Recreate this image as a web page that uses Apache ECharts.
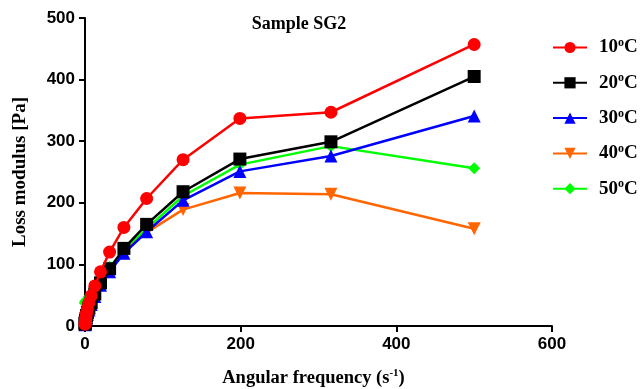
<!DOCTYPE html>
<html><head><meta charset="utf-8">
<script src="https://cdn.jsdelivr.net/npm/echarts@6/dist/echarts.min.js"></script>
<style>html,body{margin:0;padding:0;background:#fff}#c{width:643px;height:389px}</style>
</head><body><div id="c"></div>
<script>
var freq = [500, 316, 199, 126, 79.2, 50, 31.6, 19.9, 12.6, 7.92, 5, 3.16, 1.99, 1.26, 0.79, 0.5, 0.316, 0.2, 0.126];
var g10 = [457, 347, 337, 270, 207, 160, 120, 88, 65, 49, 38, 28, 21, 15, 11, 8, 6, 4, 3];
var g20 = [405, 299, 271, 218, 165, 126, 93, 70, 52, 38, 29, 22, 17, 12, 9, 7, 5, 4, 3];
var g30 = [341, 276, 251, 204, 153, 118, 88, 66, 48, 35, 26, 19, 14, 10, 8, 6, 4, 3, 2];
var g40 = [158, 214, 216, 189, 152, 120, 90, 68, 50, 37, 28, 21, 16, 12, 9, 7, 5, 4, 3];
var g50 = [256, 292, 262, 211, 158, 122, 96, 75, 60, 52, 47, 44, 42, 41, 40, 39, 38, 38, 37];
var names = ['10', '20', '30', '40', '50'];
var xTicks = [0, 200, 400, 600];
var yTicks = [0, 100, 200, 300, 400, 500];

function pts(arr){ return freq.map(function(f,i){ return [f, arr[i]]; }); }
var defs = [
  {n:'10', d:g10, c:'#ff0000', s:'circle', sz:13},
  {n:'20', d:g20, c:'#000000', s:'rect', sz:13},
  {n:'30', d:g30, c:'#0000ff', s:'triangle', sz:13},
  {n:'40', d:g40, c:'#ff6600', s:'path://M0,0 L10,0 L5,10 Z', sz:13},
  {n:'50', d:g50, c:'#00ff00', s:'diamond', sz:12}
];
var series = defs.map(function(o, i){
  return {
    name: o.n, type:'line', data: pts(o.d), symbol:o.s, symbolSize:o.sz,
    showAllSymbol:true, z: 10 - i,
    lineStyle:{color:o.c, width:2.5}, itemStyle:{color:o.c}
  };
}).reverse();

var chart = echarts.init(document.getElementById('c'));
chart.setOption({
  animation:false,
  title:{text:'Sample SG2', left:294, top:10, textAlign:'center',
    textStyle:{fontFamily:'Liberation Serif', fontWeight:'bold', fontSize:18, color:'#000'}},
  grid:{left:85, right:91, top:18, bottom:63, containLabel:false, outerBoundsMode:'none'},
  legend:{
    data: names, orient:'vertical', left:547, top:32, itemGap:15.3,
    itemWidth:34, itemHeight:14,
    formatter:function(n){ return n + '{s|o}C'; },
    textStyle:{fontFamily:'Liberation Serif', fontWeight:'bold', fontSize:19, color:'#000', padding:[0,0,0,7],
      rich:{s:{fontFamily:'Liberation Serif', fontWeight:'bold', fontSize:12, verticalAlign:'top', padding:[0,0,9,0], color:'#000'}}}
  },
  xAxis:{type:'value', min:0, max:600, interval:200,
    name:'Angular frequency (s{sup|-1})', nameLocation:'middle', nameGap:42,
    nameTextStyle:{fontFamily:'Liberation Serif', fontWeight:'bold', fontSize:18.5, color:'#000', padding:[0,10,0,0],
      rich:{sup:{fontFamily:'Liberation Serif', fontWeight:'bold', fontSize:11, padding:[0,0,9,0], color:'#000'}}},
    axisLine:{lineStyle:{color:'#000', width:2}},
    axisTick:{length:6, lineStyle:{color:'#000', width:2}},
    axisLabel:{fontFamily:'Liberation Sans', fontWeight:'bold', fontSize:17, color:'#000', margin:10},
    splitLine:{show:false}},
  yAxis:{type:'value', min:0, max:500, interval:100,
    name:'Loss modulus [Pa]', nameLocation:'middle', nameGap:55,
    nameTextStyle:{fontFamily:'Liberation Serif', fontWeight:'bold', fontSize:19, color:'#000'},
    axisLine:{show:true, lineStyle:{color:'#000', width:2}},
    axisTick:{show:true, length:6, lineStyle:{color:'#000', width:2}},
    axisLabel:{fontFamily:'Liberation Sans', fontWeight:'bold', fontSize:17, color:'#000', margin:10},
    splitLine:{show:false}},
  series: series
});
</script></body></html>
